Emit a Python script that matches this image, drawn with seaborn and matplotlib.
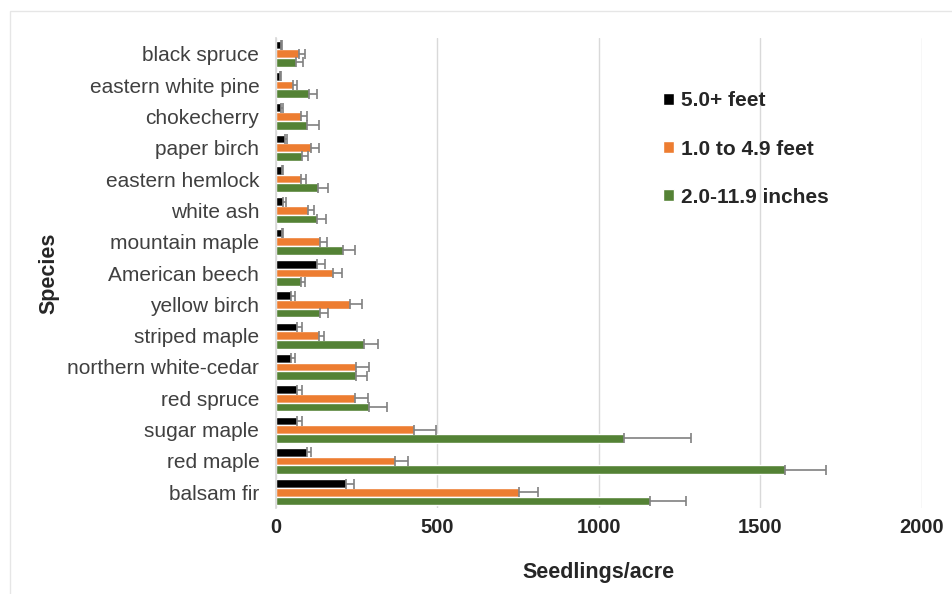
import numpy as np
import pandas as pd
import matplotlib.pyplot as plt
import seaborn as sns
from matplotlib.patches import Rectangle

sns.set_theme(style='white')
plt.rcParams['font.family'] = ['Liberation Sans', 'DejaVu Sans']

species = ['black spruce', 'eastern white pine', 'chokecherry', 'paper birch',
           'eastern hemlock', 'white ash', 'mountain maple', 'American beech',
           'yellow birch', 'striped maple', 'northern white-cedar', 'red spruce',
           'sugar maple', 'red maple', 'balsam fir']
size_classes = ['5.0+ feet', '1.0 to 4.9 feet', '2.0-11.9 inches']

tall = [15, 12, 15, 28, 18, 23, 18, 126, 46, 66, 46, 66, 64, 95, 216]
tall_err = [4, 4, 7, 7, 4, 7, 3, 26, 13, 14, 13, 16, 16, 12, 27]
mid = [71, 52, 77, 108, 77, 98, 136, 176, 229, 134, 248, 245, 428, 369, 754]
mid_err = [19, 12, 19, 25, 16, 21, 21, 28, 37, 15, 40, 39, 68, 39, 59]
small = [62, 103, 95, 80, 129, 128, 207, 77, 136, 274, 247, 287, 1079, 1578, 1158]
small_err = [22, 23, 39, 18, 31, 27, 39, 13, 26, 43, 36, 56, 205, 127, 113]

colors = ['#000000', '#ED7D31', '#548235']

df = pd.DataFrame({
    'Species': species * 3,
    'size': np.repeat(size_classes, len(species)),
    'Seedlings/acre': tall + mid + small,
})

fig = plt.figure(figsize=(9.52, 5.94), dpi=100)
ax = fig.add_axes([0.2899, 0.1448, 0.6783, 0.7912])

sns.barplot(data=df, x='Seedlings/acre', y='Species', hue='size', orient='h',
            order=species, hue_order=size_classes, palette=colors,
            errorbar=None, width=0.84, saturation=1, ax=ax)

# one-sided error bars (plus side only), like Excel
for cont, errs in zip(ax.containers, [tall_err, mid_err, small_err]):
    ys = [b.get_y() + b.get_height() / 2 for b in cont.patches]
    xs = [b.get_width() for b in cont.patches]
    ax.errorbar(xs, ys, xerr=[np.zeros(len(errs)), errs], fmt='none',
                ecolor='#808080', elinewidth=1.2, capsize=3.5, capthick=1.2)

ax.set_ylim(len(species) - 0.5, -0.5)
ax.set_xlim(0, 2000)
ax.set_xticks([0, 500, 1000, 1500, 2000])
ax.xaxis.grid(True, color='#d9d9d9', linewidth=1)
ax.yaxis.grid(False)
for s in ['top', 'right', 'bottom']:
    ax.spines[s].set_visible(False)
ax.spines['left'].set_color('#d9d9d9')
ax.tick_params(axis='x', length=0, pad=7, labelsize=14.5)
ax.tick_params(axis='y', length=0, pad=12, labelsize=15, labelcolor='#404040')
for lab in ax.get_xticklabels():
    lab.set_fontweight('bold')
ax.set_xlabel('Seedlings/acre', fontsize=15.5, fontweight='bold', labelpad=18)
ax.set_ylabel('Species', fontsize=15.5, fontweight='bold', labelpad=6)

leg = ax.legend(title=None, loc='upper left', bbox_to_anchor=(653 / 952, 1 - 81 / 594),
                bbox_transform=fig.transFigure, frameon=False, fontsize=15,
                handlelength=0.5, handleheight=0.5, handletextpad=0.35,
                labelspacing=1.4, borderpad=0)
for t in leg.get_texts():
    t.set_fontweight('bold')

# light outer frame of the chart area
fig.patches.append(Rectangle((10 / 952, -0.1), 1.2, 0.1 + 1 - 11 / 594,
                             transform=fig.transFigure, fill=False,
                             edgecolor='#e6e6e6', linewidth=1))

fig.savefig('out.png', dpi=100)
